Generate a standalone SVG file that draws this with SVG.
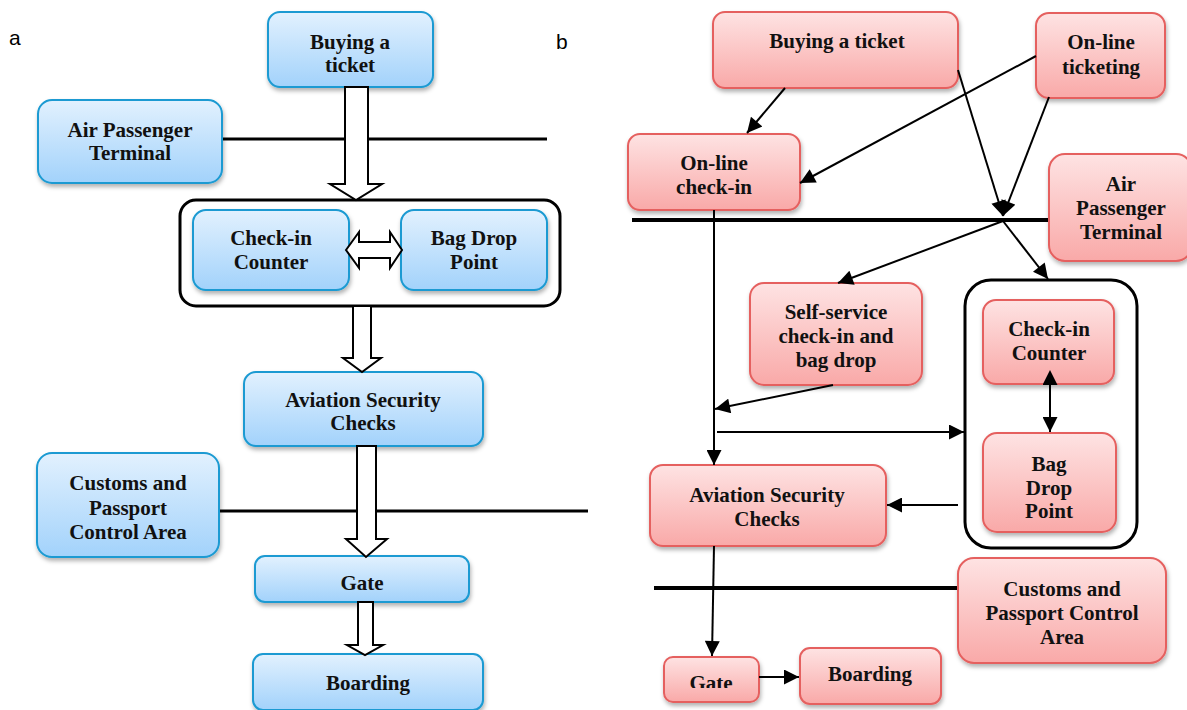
<svg xmlns="http://www.w3.org/2000/svg" width="1187" height="710" viewBox="0 0 1187 710">
<defs>
<linearGradient id="gb" x1="0" y1="0" x2="0" y2="1"><stop offset="0" stop-color="#e2f1fe"/><stop offset="1" stop-color="#a2d2fb"/></linearGradient>
<linearGradient id="gp" x1="0" y1="0" x2="0" y2="1"><stop offset="0" stop-color="#fee3e3"/><stop offset="1" stop-color="#f9a9a8"/></linearGradient>
<filter id="sh" x="-10%" y="-10%" width="130%" height="140%"><feDropShadow dx="1" dy="3" stdDeviation="2" flood-color="#000" flood-opacity="0.3"/></filter>
<marker id="ah" viewBox="0 0 10 10" refX="10" refY="5" markerWidth="8.5" markerHeight="7.5" markerUnits="strokeWidth" orient="auto"><path d="M0,0 L10,5 L0,10 z" fill="#000"/></marker>
<marker id="ahs" viewBox="0 0 10 10" refX="0" refY="5" markerWidth="8.5" markerHeight="7.5" markerUnits="strokeWidth" orient="auto-start-reverse"><path d="M0,0 L10,5 L0,10 z" fill="#000"/></marker>
<clipPath id="gateclip"><rect x="660" y="650" width="110" height="38"/></clipPath>
</defs>
<style>
.b{fill:url(#gb);stroke:#1a9ad2;stroke-width:2;filter:url(#sh)}
.p{fill:url(#gp);stroke:#e5605f;stroke-width:2;filter:url(#sh)}
.t{font-family:"Liberation Serif","Times New Roman",serif;font-weight:bold;font-size:21px;fill:#111;text-anchor:middle}
.lab{font-family:"Liberation Sans",Arial,sans-serif;font-size:21px;fill:#000}
.hl{stroke:#000;stroke-width:3;fill:none}
.hl4{stroke:#000;stroke-width:4;fill:none}
.grp{fill:none;stroke:#000;stroke-width:3}
.ha{fill:#fff;stroke:#000;stroke-width:2;stroke-linejoin:miter}
.c{stroke:#000;stroke-width:2;fill:none}
</style>
<rect width="1187" height="710" fill="#fff"/>
<text class="lab" x="9" y="45">a</text>
<text class="lab" x="556" y="49">b</text>

<!-- panel a -->
<g id="a-lines">
<line class="hl" x1="222" y1="139" x2="547" y2="139"/>
<line class="hl" x1="219" y1="511" x2="588" y2="511"/>
</g>
<g id="a-group"><rect class="grp" x="180" y="200" width="380" height="106" rx="16"/></g>
<g id="a-buying"><rect class="b" x="268" y="12" width="165" height="75" rx="12"/><text class="t" x="350" y="49">Buying a</text><text class="t" x="350" y="72">ticket</text></g>
<g id="a-apt"><rect class="b" x="38" y="100" width="184" height="83" rx="14"/><text class="t" x="130" y="137">Air Passenger</text><text class="t" x="130" y="160">Terminal</text></g>
<g id="a-checkin"><rect class="b" x="193" y="210" width="156" height="80" rx="13"/><text class="t" x="271" y="245">Check-in</text><text class="t" x="271" y="269">Counter</text></g>
<g id="a-bagdrop"><rect class="b" x="401" y="210" width="146" height="80" rx="13"/><text class="t" x="474" y="245">Bag Drop</text><text class="t" x="474" y="269">Point</text></g>
<g id="a-security"><rect class="b" x="244" y="372" width="239" height="74" rx="12"/><text class="t" x="363" y="407">Aviation Security</text><text class="t" x="363" y="430">Checks</text></g>
<g id="a-customs"><rect class="b" x="37" y="453" width="182" height="104" rx="15"/><text class="t" x="128" y="490">Customs and</text><text class="t" x="128" y="515">Passport</text><text class="t" x="128" y="539">Control Area</text></g>
<g id="a-gate"><rect class="b" x="255" y="556" width="214" height="46" rx="10"/><text class="t" x="362" y="590">Gate</text></g>
<g id="a-boarding"><rect class="b" x="253" y="654" width="230" height="56" rx="10"/><text class="t" x="368" y="690">Boarding</text></g>
<g id="a-connectors">
<path class="ha" d="M345,87 L368,87 L368,184 L382,184 L356,200 L330,184 L345,184 Z"/>
<path class="ha" d="M346,250 L359,232 L359,242 L390,242 L390,232 L402,250 L390,268 L390,258 L359,258 L359,268 Z"/>
<path class="ha" d="M353,306 L371,306 L371,358 L381,358 L362,372 L343,358 L353,358 Z"/>
<path class="ha" d="M357,446 L376,446 L376,539 L387,539 L366,557 L346,539 L357,539 Z"/>
<path class="ha" d="M358,602 L373,602 L373,645 L383,645 L365,655 L347,645 L358,645 Z"/>
</g>

<!-- panel b -->
<g id="b-lines">
<line class="hl4" x1="632" y1="220" x2="1053" y2="220"/>
<line class="hl4" x1="654" y1="588" x2="958" y2="588"/>
</g>
<g id="b-group"><rect class="grp" x="965" y="280" width="172" height="268" rx="26"/></g>
<g id="b-buying"><rect class="p" x="713" y="12" width="245" height="76" rx="12"/><text class="t" x="837" y="48">Buying a ticket</text></g>
<g id="b-online-ticketing"><rect class="p" x="1036" y="13" width="129" height="85" rx="13"/><text class="t" x="1101" y="49">On-line</text><text class="t" x="1101" y="74">ticketing</text></g>
<g id="b-online-checkin"><rect class="p" x="628" y="134" width="172" height="76" rx="12"/><text class="t" x="714" y="170">On-line</text><text class="t" x="714" y="194">check-in</text></g>
<g id="b-apt"><rect class="p" x="1049" y="154" width="143" height="107" rx="16"/><text class="t" x="1121" y="191">Air</text><text class="t" x="1121" y="215">Passenger</text><text class="t" x="1121" y="239">Terminal</text></g>
<g id="b-selfservice"><rect class="p" x="750" y="283" width="172" height="102" rx="14"/><text class="t" x="836" y="319">Self-service</text><text class="t" x="836" y="343">check-in and</text><text class="t" x="836" y="367">bag drop</text></g>
<g id="b-checkin"><rect class="p" x="983" y="300" width="131" height="84" rx="13"/><text class="t" x="1049" y="336">Check-in</text><text class="t" x="1049" y="360">Counter</text></g>
<g id="b-bagdrop"><rect class="p" x="983" y="433" width="133" height="99" rx="14"/><text class="t" x="1049" y="471">Bag</text><text class="t" x="1049" y="495">Drop</text><text class="t" x="1049" y="518">Point</text></g>
<g id="b-security"><rect class="p" x="650" y="465" width="236" height="81" rx="13"/><text class="t" x="767" y="502">Aviation Security</text><text class="t" x="767" y="526">Checks</text></g>
<g id="b-customs"><rect class="p" x="958" y="558" width="208" height="105" rx="16"/><text class="t" x="1062" y="596">Customs and</text><text class="t" x="1062" y="620">Passport Control</text><text class="t" x="1062" y="644">Area</text></g>
<g id="b-gate"><rect class="p" x="664" y="657" width="95" height="45" rx="9"/><text class="t" x="711" y="690" clip-path="url(#gateclip)">Gate</text></g>
<g id="b-boarding"><rect class="p" x="800" y="648" width="141" height="56" rx="10"/><text class="t" x="870" y="681">Boarding</text></g>
<g id="b-connectors">
<line class="c" x1="785" y1="88" x2="747" y2="133" marker-end="url(#ah)"/>
<line class="c" x1="1036" y1="56" x2="800" y2="183" marker-end="url(#ah)"/>
<line class="c" x1="958" y1="70" x2="1003" y2="216" marker-end="url(#ah)"/>
<line class="c" x1="1049" y1="97" x2="1003" y2="216" marker-end="url(#ah)"/>
<line class="c" x1="1003" y1="221" x2="838" y2="283" marker-end="url(#ah)"/>
<line class="c" x1="1003" y1="221" x2="1048" y2="279" marker-end="url(#ah)"/>
<line class="c" x1="714" y1="210" x2="714" y2="465" marker-end="url(#ah)"/>
<line class="c" x1="833" y1="385" x2="715" y2="409" marker-end="url(#ah)"/>
<line class="c" x1="717" y1="432" x2="964" y2="432" marker-end="url(#ah)"/>
<line class="c" x1="958" y1="505" x2="887" y2="505" marker-end="url(#ah)"/>
<line class="c" x1="714" y1="546" x2="712" y2="656" marker-end="url(#ah)"/>
<line class="c" x1="1050" y1="385" x2="1050" y2="432" marker-start="url(#ahs)" marker-end="url(#ah)"/>
<line class="c" x1="759" y1="677" x2="799" y2="677" marker-end="url(#ah)"/>
</g>
</svg>
